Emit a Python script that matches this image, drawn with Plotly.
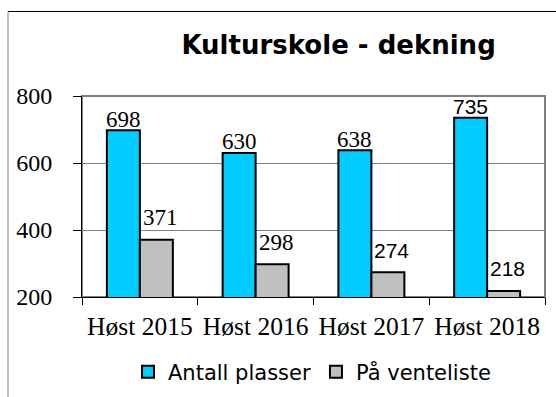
import plotly.graph_objects as go

# --- data -------------------------------------------------------------
categories = ["Høst 2015", "Høst 2016", "Høst 2017", "Høst 2018"]
antall_plasser = [698, 630, 638, 735]
paa_venteliste = [371, 298, 274, 218]
y_ticks = [200, 400, 600, 800]

# --- styling ----------------------------------------------------------
W, H = 556, 397
M_L, M_R, M_T, M_B = 82, 11, 96, 100
PLOT_W = W - M_L - M_R
PLOT_H = H - M_T - M_B
BARGAP = 0.43

BLUE = "#00CCFF"
GREY = "#C0C0C0"
SERIF = "Liberation Serif, Times New Roman, serif"
SANS = "Liberation Sans, Arial, sans-serif"
VERD = "DejaVu Sans, Verdana, sans-serif"

# font used for each value label
blue_label_fonts = [SERIF, SERIF, SERIF, SANS]
grey_label_fonts = [SERIF, SERIF, SANS, SANS]

fig = go.Figure()
fig.add_trace(go.Bar(
    x=categories, y=antall_plasser, name="Antall plasser",
    marker=dict(color=BLUE, line=dict(color="black", width=2)),
))
fig.add_trace(go.Bar(
    x=categories, y=paa_venteliste, name="På venteliste",
    marker=dict(color=GREY, line=dict(color="black", width=2)),
))

# value labels above each bar
cat_px = PLOT_W / len(categories)
bar_off = (1 - BARGAP) / 4 * cat_px


def font_size(fam):
    return 23 if fam == SERIF else 21


for cat, v, fam in zip(categories, antall_plasser, blue_label_fonts):
    fig.add_annotation(x=cat, y=v, text=str(v), showarrow=False,
                       xshift=-bar_off, yshift=11, yanchor="middle",
                       font=dict(family=fam, size=font_size(fam), color="black"))
for cat, v, fam in zip(categories, paa_venteliste, grey_label_fonts):
    fig.add_annotation(x=cat, y=v, text=str(v), showarrow=False,
                       xshift=bar_off + 4, yshift=22, yanchor="middle",
                       font=dict(family=fam, size=font_size(fam), color="black"))


def px_to_paper_x(px):
    return (px - M_L) / PLOT_W


def px_to_paper_y(py):
    return (H - M_B - py) / PLOT_H


# chart-area frame (top and left edges visible)
fig.add_shape(type="line", xref="paper", yref="paper",
              x0=px_to_paper_x(8), x1=px_to_paper_x(W + 2),
              y0=px_to_paper_y(11.5), y1=px_to_paper_y(11.5),
              line=dict(color="black", width=1))
fig.add_shape(type="line", xref="paper", yref="paper",
              x0=px_to_paper_x(8), x1=px_to_paper_x(8),
              y0=px_to_paper_y(11.5), y1=px_to_paper_y(H + 2),
              line=dict(color="#808080", width=1))
# plot-area border
fig.add_shape(type="rect", xref="paper", yref="paper", x0=0, x1=1, y0=0, y1=1,
              line=dict(color="#808080", width=2), layer="below")

fig.update_layout(
    width=W, height=H,
    margin=dict(l=M_L, r=M_R, t=M_T, b=M_B),
    paper_bgcolor="white", plot_bgcolor="white",
    barmode="group", bargap=BARGAP, bargroupgap=0,
    title=dict(text="<b>Kulturskole - dekning</b>", xref="container", yref="container",
               x=338.6 / W, xanchor="center", y=1 - 45 / H, yanchor="middle",
               font=dict(family=VERD, size=26, color="black")),
    legend=dict(orientation="h", xref="container", yref="container",
                x=312 / W, xanchor="center", y=1 - 372 / H, yanchor="middle",
                font=dict(family=VERD, size=21, color="black"),
                bgcolor="rgba(0,0,0,0)", traceorder="normal"),
    showlegend=True,
    xaxis=dict(
        showline=True, linecolor="black", linewidth=1,
        ticks="outside", tickson="boundaries", ticklen=7, tickcolor="black",
        ticklabelstandoff=6,
        tickfont=dict(family=SERIF, size=25.5, color="black"),
        showgrid=False,
    ),
    yaxis=dict(
        range=[200, 800], tickvals=y_ticks,
        showline=True, linecolor="black", linewidth=1,
        ticks="outside", ticklen=8, tickcolor="black",
        ticklabelstandoff=16,
        tickfont=dict(family=SERIF, size=24, color="black"),
        showgrid=True, gridcolor="#808080", gridwidth=1,
        zeroline=False,
    ),
)

fig.write_html("out.html")
